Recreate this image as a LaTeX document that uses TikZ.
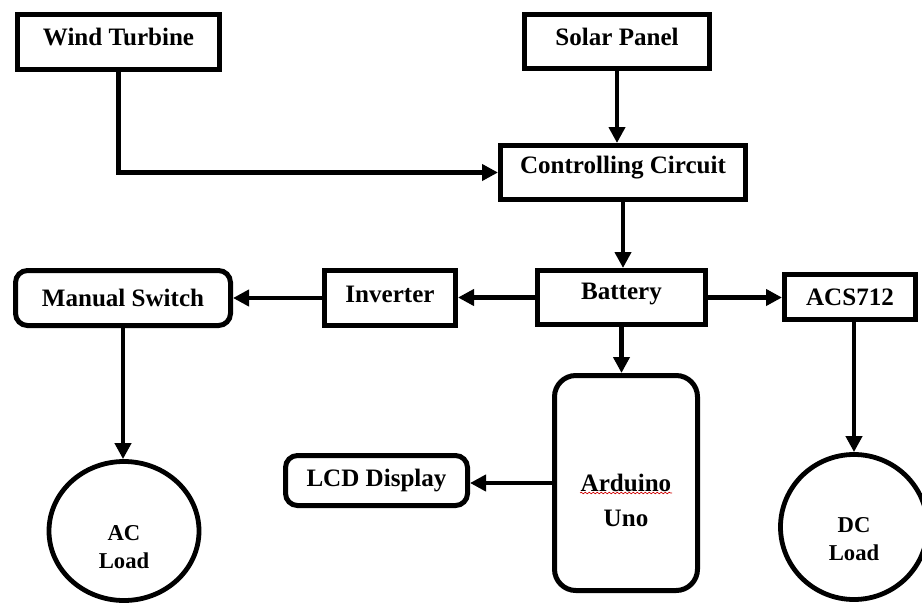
\documentclass[tikz,border=0pt]{standalone}
\usepackage{fontspec}
\setmainfont{Liberation Serif}
\usetikzlibrary{arrows.meta,shapes.geometric,decorations.pathmorphing}
\newcommand\up[2][3.5pt]{\raisebox{#1}[\height][\depth]{#2}}
\begin{document}
\begin{tikzpicture}[x=0.75pt,y=-0.75pt,
  blk/.style={draw,line width=3.75pt,rectangle,inner sep=0pt,
    font=\bfseries\fontsize{18.8}{22}\selectfont},
  rblk/.style={blk,rounded corners=9pt},
  ld/.style={draw,line width=3.6pt,ellipse,inner sep=0pt,align=center,
    font=\bfseries\fontsize{17}{21}\selectfont},
  arr/.style={line width=3.4pt,-{Triangle[length=12pt,width=12pt]}}]
\useasboundingbox (0,0) rectangle (922,604);

\node[blk,minimum width=151.5pt,minimum height=41.25pt] (wind) at (118.5,42) {\up{Wind Turbine}};
\node[blk,minimum width=138.75pt,minimum height=40.5pt] (solar) at (617,41.5) {\up{Solar Panel}};
\node[blk,minimum width=183.75pt,minimum height=40.5pt] (cc) at (623,172.5) {\up{Controlling Circuit}};
\node[blk,minimum width=126pt,minimum height=40.5pt] (bat) at (621.5,297.5) {\up[2.6pt]{Battery}};
\node[blk,minimum width=98.25pt,minimum height=33.75pt] (acs) at (850,297) {ACS712};
\node[blk,minimum width=98.25pt,minimum height=41.25pt] (inv) at (390,298) {\up[2.8pt]{Inverter}};
\node[rblk,minimum width=161.25pt,minimum height=41.25pt] (man) at (123,298) {Manual Switch};
\node[rblk,minimum width=136.5pt,minimum height=37.5pt] (lcd) at (376.5,480.5) {LCD Display};
\node[blk,rounded corners=16pt,align=center,minimum width=107.25pt,minimum height=161.25pt,
  font=\bfseries\fontsize{18.8}{26.25}\selectfont] (ard) at (626,483) {\mbox{}\\[13.5pt]Arduino\\Uno};
\node[ld,minimum width=112.5pt,minimum height=104.25pt] (ac) at (124,531) {\mbox{}\\[15pt]AC\\Load};
\node[ld,minimum width=110.25pt,minimum height=108.75pt] (dc) at (854,527) {\mbox{}\\[9pt]DC\\Load};

\draw[arr] (wind.south) |- (cc.west);
\draw[arr] (solar.south) -- (solar.south |- cc.north);
\draw[arr] (cc.south) -- (cc.south |- bat.north);
\draw[arr] (bat.east) -- (bat.east -| acs.west);
\draw[arr] (bat.west) -- (bat.west -| inv.east);
\draw[arr] (inv.west) -- (inv.west -| man.east);
\draw[arr] (man.south) -- (man.south |- ac.north);
\draw[arr] (bat.south) -- (bat.south |- ard.north);
\draw[arr] (ard.west) -- (ard.west -| lcd.east);
\draw[arr] (acs.south -| dc.north) -- (dc.north);

\draw[red!80!black,line width=0.5pt,decorate,
  decoration={snake,amplitude=0.6pt,segment length=3pt}] (580,493) -- (672,493);
\end{tikzpicture}
\end{document}
